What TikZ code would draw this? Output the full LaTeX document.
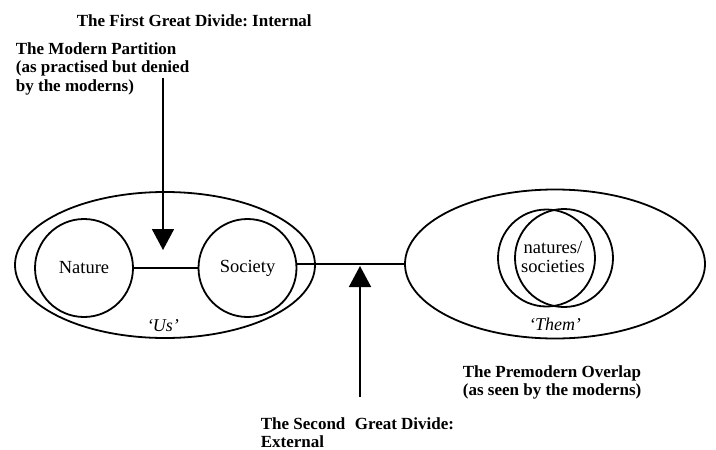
\documentclass[tikz,border=0pt]{standalone}
\usepackage{fontspec}
\setmainfont{Liberation Serif}
\usetikzlibrary{shapes.geometric,arrows.meta}
\frenchspacing
\begin{document}
\begin{tikzpicture}[x=1pt,y=-1pt,line width=1.8pt,
  lbl/.style={font=\fontsize{17}{18.5}\selectfont\bfseries, inner sep=0pt, anchor=base west},
  inner/.style={font=\fontsize{18.5}{18.7}\selectfont, inner sep=0pt},
  ital/.style={font=\fontsize{18}{18.7}\selectfont\itshape, inner sep=0pt, anchor=base},
  ring/.style={circle, draw, minimum size=98pt, inner sep=0pt},
  oval/.style={ellipse, draw, minimum width=300pt, inner sep=0pt},
  bigarrow/.style={-{Triangle[length=21pt,width=22pt]}}]
\useasboundingbox (0,0) rectangle (716,450);

% ovals
\node[oval, minimum height=146pt] (us) at (165,265) {};
\node[oval, minimum height=149pt] (them) at (555,264) {};

% circles
\node[ring, inner] (nature) at (84,268) {Nature};
\node[ring, inner] (society) at (247.5,268) {Society};
\node[circle, draw, minimum size=97pt, inner sep=0pt] (ca) at (546.5,258) {};
\node[circle, draw, minimum size=98pt, inner sep=0pt] (cb) at (564,258) {};
\node[inner, align=center] (ns) at (553,257) {natures/\\societies};

\node[ital] (usl) at (163,331) {‘Us’};
\node[ital] (theml) at (555,330) {‘Them’};

% labels
\node[lbl] (first) at (76,26) {The First Great Divide: Internal};
\node[lbl] (partition) at (15,54) {\begin{tabular}[t]{@{}l@{}}The Modern Partition\\(as practised but denied\\by the moderns)\end{tabular}};
\node[lbl] (overlap) at (462,377) {\begin{tabular}[t]{@{}l@{}}The Premodern Overlap\\(as seen by the moderns)\end{tabular}};
\node[lbl] (second) at (260,429) {\begin{tabular}[t]{@{}l@{}}The Second\hspace{0.55em}Great Divide:\\External\end{tabular}};

% connectors
\draw (nature) -- (society);
\draw (society.east |- them.west) -- (them.west);

\coordinate (d0) at (163,78);
\coordinate (d1) at (163,250);
\draw[bigarrow] (d0) -- (d1);

\coordinate (u0) at (360,397);
\coordinate (u1) at (360,266);
\draw[bigarrow] (u0) -- (u1);
\end{tikzpicture}
\end{document}
